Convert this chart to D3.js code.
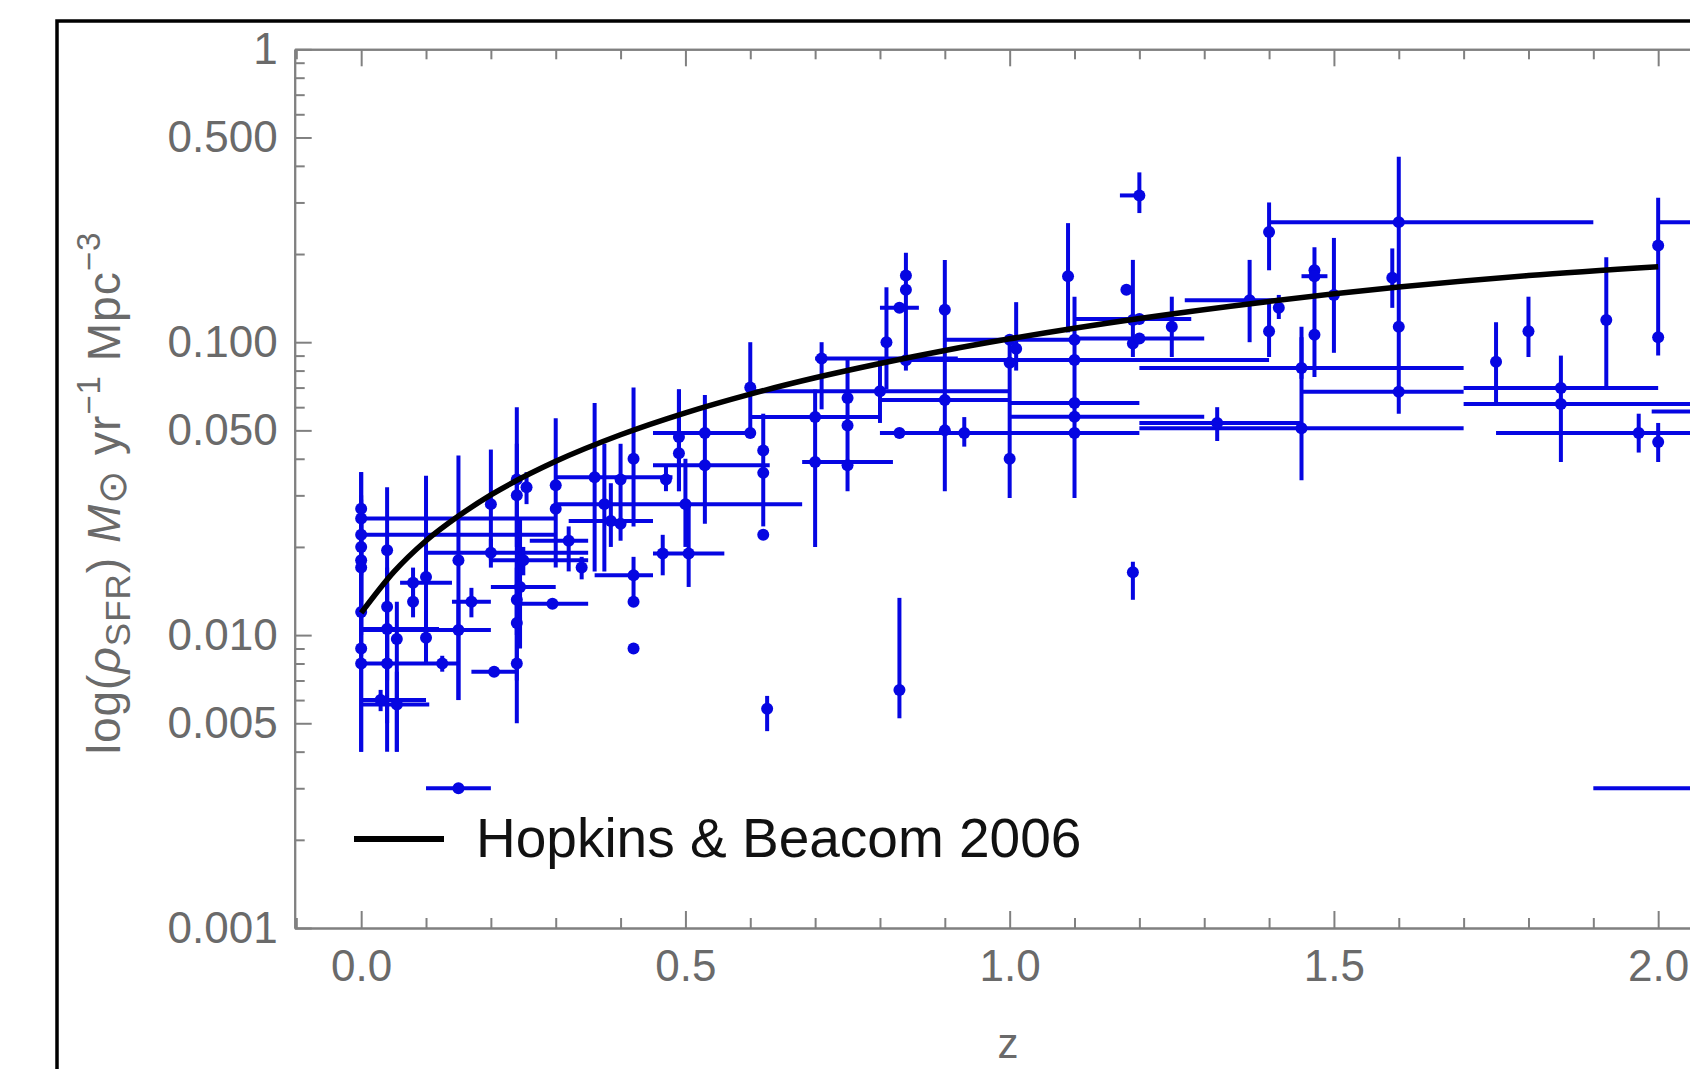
<!DOCTYPE html>
<html>
<head>
<meta charset="utf-8">
<script src="https://cdn.jsdelivr.net/npm/d3@7"></script>
<style>
  body { margin: 0; background: #fff; }
  text { font-family: "Liberation Sans", Arial, sans-serif; }
</style>
</head>
<body>
<div id="chart"></div>
<script>
// measurements: redshift, z range, SFR density and its error range
var zMid = [0, 0, 0, 0, 0, 0, 0, 0, 0, 0.04,
    0.04, 0.04, 0.04, 0.055, 0.055, 0.03, 0.08, 0.08, 0.10, 0.10,
    0.125, 0.15, 0.15, 0.17, 0.20, 0.20, 0.205, 0.24, 0.24, 0.245,
    0.24, 0.24, 0.24, 0.255, 0.25, 0.30, 0.30, 0.32, 0.34, 0.295,
    0.36, 0.375, 0.385, 0.40, 0.40, 0.42, 0.42, 0.42, 0.42, 0.465,
    0.505, 0.49, 0.49, 0.53, 0.53, 0.47, 0.50, 0.60, 0.60, 0.62,
    0.62, 0.62, 0.626, 0.70, 0.70, 0.71, 0.75, 0.75, 0.75, 0.80,
    0.81, 0.83, 0.83, 0.83, 0.84, 0.84, 0.84, 0.90, 0.90, 0.90,
    0.93, 1.00, 1.00, 1.01, 1.00, 1.09, 1.10, 1.10, 1.10, 1.10,
    1.10, 1.18, 1.19, 1.19, 1.20, 1.19, 1.25, 1.20, 1.20, 1.37,
    1.32, 1.45, 1.45, 1.40, 1.60, 1.40, 1.415, 1.47, 1.47, 1.47,
    1.50, 1.59, 1.60, 1.60, 1.75, 1.80, 1.85, 1.85, 1.92, 2.00,
    2.00, 2.00, 1.97, 2.20, 2.30, 2.10, 0.15];
var zLow = [0, 0, 0, 0, 0, 0, 0, 0, 0, 0.04,
    0.04, 0, 0.04, 0.055, 0, 0, 0.06, 0.08, 0.10, 0.10,
    0.10, 0.15, 0, 0.14, 0.20, 0.10, 0.17, 0.24, 0.24, 0.20,
    0.24, 0.24, 0.24, 0.255, 0.20, 0.30, 0.30, 0.26, 0.34, 0.245,
    0.30, 0.375, 0.32, 0.40, 0.40, 0.42, 0.36, 0.42, 0.42, 0.45,
    0.505, 0.49, 0.49, 0.45, 0.45, 0.47, 0.30, 0.60, 0.60, 0.62,
    0.62, 0.62, 0.626, 0.60, 0.68, 0.70, 0.75, 0.75, 0.75, 0.60,
    0.81, 0.80, 0.83, 0.80, 0.84, 0.84, 0.84, 0.90, 0.80, 0.90,
    0.93, 1.00, 1.00, 1.01, 0.90, 1.09, 1.10, 0.80, 1.00, 1.00,
    0.80, 1.18, 1.19, 1.19, 1.17, 1.19, 1.25, 1.10, 1.10, 1.27,
    1.20, 1.20, 1.20, 1.40, 1.40, 1.40, 1.415, 1.47, 1.45, 1.47,
    1.50, 1.59, 1.60, 1.45, 1.75, 1.80, 1.70, 1.70, 1.92, 2.00,
    2.00, 2.00, 1.75, 2.00, 1.99, 1.90, 0.10];
var zHigh = [0.30, 0.30, 0, 0, 0, 0, 0, 0, 0.10, 0.04,
    0.04, 0.12, 0.04, 0.055, 0.105, 0.10, 0.14, 0.08, 0.10, 0.10,
    0.15, 0.15, 0.20, 0.20, 0.20, 0.35, 0.24, 0.24, 0.24, 0.30,
    0.24, 0.24, 0.24, 0.255, 0.35, 0.30, 0.30, 0.35, 0.34, 0.35,
    0.48, 0.375, 0.45, 0.40, 0.40, 0.42, 0.45, 0.42, 0.42, 0.56,
    0.505, 0.49, 0.49, 0.60, 0.63, 0.47, 0.68, 0.60, 0.60, 0.62,
    0.62, 0.62, 0.626, 0.80, 0.82, 0.92, 0.75, 0.75, 0.75, 1.00,
    0.81, 0.86, 0.83, 1.00, 0.84, 0.84, 0.84, 0.90, 1.00, 0.90,
    0.93, 1.00, 1.00, 1.01, 1.10, 1.09, 1.10, 1.40, 1.20, 1.30,
    1.20, 1.18, 1.19, 1.19, 1.20, 1.19, 1.25, 1.28, 1.30, 1.42,
    1.45, 1.70, 1.70, 1.40, 1.90, 1.40, 1.415, 1.47, 1.49, 1.47,
    1.50, 1.59, 1.60, 1.70, 1.75, 1.80, 2.00, 2.10, 1.92, 2.00,
    2.00, 2.00, 2.15, 2.40, 2.50, 2.30, 0.20];
var sfrMid = [0.025, 0.022, 0.027, 0.020, 0.018, 0.017, 0.012, 0.009, 0.008, 0.0195,
    0.0125, 0.0105, 0.008, 0.0097, 0.0058, 0.0060, 0.0151, 0.013, 0.0158, 0.0098,
    0.008, 0.018, 0.0104, 0.013, 0.028, 0.0191, 0.0075, 0.034, 0.030, 0.0146,
    0.0132, 0.011, 0.008, 0.032, 0.018, 0.0325, 0.027, 0.021, 0.017, 0.0128,
    0.0346, 0.028, 0.0245, 0.034, 0.024, 0.040, 0.016, 0.013, 0.009, 0.019,
    0.019, 0.0475, 0.0418, 0.049, 0.038, 0.034, 0.028, 0.070, 0.049, 0.0427,
    0.0358, 0.022, 0.0056, 0.0555, 0.039, 0.088, 0.0645, 0.052, 0.038, 0.068,
    0.100, 0.131, 0.0065, 0.049, 0.169, 0.151, 0.0868, 0.129, 0.0635, 0.050,
    0.049, 0.085, 0.040, 0.095, 0.102, 0.168, 0.102, 0.087, 0.062, 0.0557,
    0.049, 0.151, 0.119, 0.099, 0.317, 0.0164, 0.113, 0.120, 0.103, 0.139,
    0.053, 0.0508, 0.0816, 0.238, 0.257, 0.109, 0.131, 0.176, 0.168, 0.106,
    0.145, 0.166, 0.113, 0.0677, 0.0858, 0.109, 0.0698, 0.0615, 0.119, 0.214,
    0.104, 0.0456, 0.049, 0.257, 0.058, 0.003, 0.003];
var sfrLow = [0.018, 0.016, 0.020, 0.013, 0.012, 0.010, 0.0085, 0.004, 0.004, 0.004,
    0.008, 0.007, 0.005, 0.004, 0.004, 0.0055, 0.0135, 0.0115, 0.008, 0.008,
    0.0075, 0.006, 0.006, 0.0115, 0.018, 0.017, 0.0075, 0.020, 0.020, 0.009,
    0.010, 0.007, 0.005, 0.028, 0.016, 0.017, 0.027, 0.0165, 0.0155, 0.0128,
    0.0165, 0.0165, 0.020, 0.021, 0.024, 0.0235, 0.013, 0.013, 0.009, 0.016,
    0.0146, 0.031, 0.031, 0.024, 0.038, 0.031, 0.020, 0.049, 0.049, 0.0235,
    0.0358, 0.022, 0.0047, 0.020, 0.039, 0.059, 0.031, 0.052, 0.038, 0.053,
    0.069, 0.131, 0.0052, 0.049, 0.080, 0.151, 0.0868, 0.031, 0.0635, 0.050,
    0.044, 0.0294, 0.040, 0.080, 0.102, 0.108, 0.0294, 0.087, 0.062, 0.0557,
    0.049, 0.151, 0.089, 0.099, 0.276, 0.0132, 0.089, 0.120, 0.103, 0.100,
    0.046, 0.0338, 0.075, 0.176, 0.057, 0.089, 0.120, 0.076, 0.168, 0.106,
    0.092, 0.131, 0.113, 0.0677, 0.0625, 0.089, 0.039, 0.0615, 0.070, 0.090,
    0.104, 0.039, 0.042, 0.257, 0.058, 0.003, 0.003];
var sfrHigh = [0.036, 0.030, 0.036, 0.029, 0.026, 0.025, 0.017, 0.020, 0.012, 0.032,
    0.017, 0.015, 0.011, 0.013, 0.0075, 0.0065, 0.017, 0.0145, 0.035, 0.012,
    0.0085, 0.041, 0.013, 0.0145, 0.043, 0.0213, 0.0075, 0.060, 0.045, 0.025,
    0.017, 0.018, 0.020, 0.036, 0.020, 0.055, 0.027, 0.0235, 0.0185, 0.0128,
    0.062, 0.045, 0.033, 0.045, 0.024, 0.070, 0.0185, 0.013, 0.009, 0.022,
    0.028, 0.069, 0.069, 0.066, 0.038, 0.038, 0.040, 0.100, 0.049, 0.057,
    0.0358, 0.022, 0.0062, 0.069, 0.039, 0.100, 0.089, 0.052, 0.038, 0.089,
    0.154, 0.131, 0.0134, 0.049, 0.202, 0.151, 0.0868, 0.191, 0.0635, 0.050,
    0.0555, 0.100, 0.040, 0.137, 0.102, 0.255, 0.143, 0.087, 0.062, 0.0557,
    0.049, 0.151, 0.191, 0.099, 0.38, 0.0178, 0.143, 0.120, 0.103, 0.191,
    0.060, 0.113, 0.104, 0.300, 0.43, 0.136, 0.145, 0.211, 0.168, 0.106,
    0.227, 0.209, 0.113, 0.0677, 0.117, 0.143, 0.090, 0.0615, 0.195, 0.311,
    0.104, 0.053, 0.057, 0.257, 0.058, 0.003, 0.003];

// Hopkins & Beacom 2006 curve
var curveZ = [0, 0.05, 0.1, 0.15, 0.2, 0.3, 0.4, 0.5, 0.6, 0.7, 0.8, 0.9, 1.0, 1.2, 1.4, 1.6, 1.8, 2.0];
var curveSfr = [0.0119, 0.0164, 0.021, 0.0255, 0.0301, 0.0392, 0.0483, 0.0574, 0.0665, 0.0756,
    0.0846, 0.0937, 0.1027, 0.1205, 0.1378, 0.1542, 0.1689, 0.181];

// ticks
var xMajorTicks = [0, 0.5, 1, 1.5, 2, 2.5];
var xMinorTicks = [-0.1, 0.1, 0.2, 0.3, 0.4, 0.6, 0.7, 0.8, 0.9, 1.1, 1.2, 1.3, 1.4, 1.6, 1.7, 1.8, 1.9, 2.1, 2.2];
var yMajorTicks = [1, 0.5, 0.1, 0.05, 0.01, 0.005, 0.001];
var yTickLabels = ["1", "0.500", "0.100", "0.050", "0.010", "0.005", "0.001"];
var yMinorTicks = [0.9, 0.8, 0.7, 0.6, 0.4, 0.3, 0.2, 0.09, 0.08, 0.07, 0.06, 0.04, 0.03, 0.02,
    0.009, 0.008, 0.007, 0.006, 0.004, 0.003, 0.002];

var width = 1690, height = 1069;
var plot = {left: 294.7, top: 49.3, bottom: 928};
var blue = "#0606e2", gray = "#6a6a6a", frameGray = "#808080";

var svg = d3.select("#chart").append("svg")
    .attr("width", width)
    .attr("height", height);

svg.append("rect").attr("width", width).attr("height", height).attr("fill", "#fff");

// outer black border (picture is cropped on the right and bottom)
svg.append("rect")
    .attr("x", 57).attr("y", 21)
    .attr("width", 1800).attr("height", 1200)
    .attr("fill", "none")
    .attr("stroke", "#000")
    .attr("stroke-width", 3.5);

var x = d3.scaleLinear().domain([-0.1025, 2.6]).range([plot.left, plot.left + 2.7025 * 648.5]);
var y = d3.scaleLog().domain([0.001, 1]).range([plot.bottom, plot.top]);

function styleAxis(g) {
    g.selectAll("path.domain").attr("stroke", frameGray).attr("stroke-width", 2);
    g.selectAll(".tick line").attr("stroke", frameGray).attr("stroke-width", 2);
    g.selectAll(".tick text")
        .attr("fill", gray)
        .style("font-size", "44px")
        .style("font-family", "'Liberation Sans', Arial, sans-serif");
}

// bottom axis
var gx = svg.append("g")
    .attr("transform", "translate(0," + plot.bottom + ")")
    .call(d3.axisBottom(x).tickValues(xMajorTicks).tickFormat(d3.format(".1f"))
        .tickSizeInner(-17).tickSizeOuter(0).tickPadding(22));
styleAxis(gx);
var gxm = svg.append("g")
    .attr("transform", "translate(0," + plot.bottom + ")")
    .call(d3.axisBottom(x).tickValues(xMinorTicks).tickFormat("").tickSizeInner(-10).tickSizeOuter(0));
styleAxis(gxm);

// top frame
var gt = svg.append("g")
    .attr("transform", "translate(0," + plot.top + ")")
    .call(d3.axisTop(x).tickValues(xMajorTicks).tickFormat("").tickSizeInner(-17).tickSizeOuter(0));
styleAxis(gt);
var gtm = svg.append("g")
    .attr("transform", "translate(0," + plot.top + ")")
    .call(d3.axisTop(x).tickValues(xMinorTicks).tickFormat("").tickSizeInner(-10).tickSizeOuter(0));
styleAxis(gtm);

// left axis
var gy = svg.append("g")
    .attr("transform", "translate(" + plot.left + ",0)")
    .call(d3.axisLeft(y).tickValues(yMajorTicks)
        .tickFormat(function(d, i) { return yTickLabels[i]; })
        .tickSizeInner(-17).tickSizeOuter(0).tickPadding(17));
styleAxis(gy);
var gym = svg.append("g")
    .attr("transform", "translate(" + plot.left + ",0)")
    .call(d3.axisLeft(y).tickValues(yMinorTicks).tickFormat("").tickSizeInner(-10).tickSizeOuter(0));
styleAxis(gym);

// data
var points = zMid.map(function(z, i) {
    return {z: z, zl: zLow[i], zh: zHigh[i], v: sfrMid[i], vl: sfrLow[i], vh: sfrHigh[i]};
});

var gData = svg.append("g");

gData.selectAll(".xerr").data(points.filter(function(d) { return d.zh > d.zl; })).enter()
    .append("line")
    .attr("class", "xerr")
    .attr("x1", function(d) { return x(d.zl); })
    .attr("x2", function(d) { return x(d.zh); })
    .attr("y1", function(d) { return y(d.v); })
    .attr("y2", function(d) { return y(d.v); })
    .attr("stroke", blue)
    .attr("stroke-width", 4);

gData.selectAll(".yerr").data(points.filter(function(d) { return d.vh > d.vl; })).enter()
    .append("line")
    .attr("class", "yerr")
    .attr("x1", function(d) { return x(d.z); })
    .attr("x2", function(d) { return x(d.z); })
    .attr("y1", function(d) { return y(d.vl); })
    .attr("y2", function(d) { return y(d.vh); })
    .attr("stroke", blue)
    .attr("stroke-width", 4);

gData.selectAll(".dot").data(points).enter()
    .append("circle")
    .attr("class", "dot")
    .attr("cx", function(d) { return x(d.z); })
    .attr("cy", function(d) { return y(d.v); })
    .attr("r", 6)
    .attr("fill", blue);

// fit curve
var line = d3.line()
    .x(function(d) { return x(d[0]); })
    .y(function(d) { return y(d[1]); })
    .curve(d3.curveMonotoneX);

svg.append("path")
    .datum(curveZ.map(function(z, i) { return [z, curveSfr[i]]; }))
    .attr("d", line)
    .attr("fill", "none")
    .attr("stroke", "#000")
    .attr("stroke-width", 5.5);

// legend
svg.append("line")
    .attr("x1", 354).attr("x2", 444)
    .attr("y1", 839).attr("y2", 839)
    .attr("stroke", "#000")
    .attr("stroke-width", 6);
svg.append("text")
    .attr("x", 476).attr("y", 857)
    .style("font-size", "55px")
    .attr("fill", "#111")
    .text("Hopkins & Beacom 2006");

// axis labels
svg.append("text")
    .attr("x", 1008).attr("y", 1058)
    .attr("text-anchor", "middle")
    .style("font-size", "42px")
    .attr("fill", gray)
    .text("z");

var ylab = svg.append("text")
    .attr("transform", "translate(120,493) rotate(-90)")
    .attr("text-anchor", "middle")
    .style("font-size", "46px")
    .style("letter-spacing", "1px")
    .attr("fill", gray);
ylab.append("tspan").text("log(");
ylab.append("tspan").style("font-style", "italic").text("\u03C1");
ylab.append("tspan").attr("dy", 10).style("font-size", "35px").text("SFR");
ylab.append("tspan").attr("dy", -10).text(") ");
ylab.append("tspan").style("font-style", "italic").text("M");
ylab.append("tspan").attr("dy", 6).style("font-size", "40px").text("\u2299");
ylab.append("tspan").attr("dy", -6).text(" yr");
ylab.append("tspan").attr("dy", -20).style("font-size", "33px").text("\u22121");
ylab.append("tspan").attr("dy", 20).text(" Mpc");
ylab.append("tspan").attr("dy", -20).style("font-size", "33px").text("\u22123");
</script>
</body>
</html>
